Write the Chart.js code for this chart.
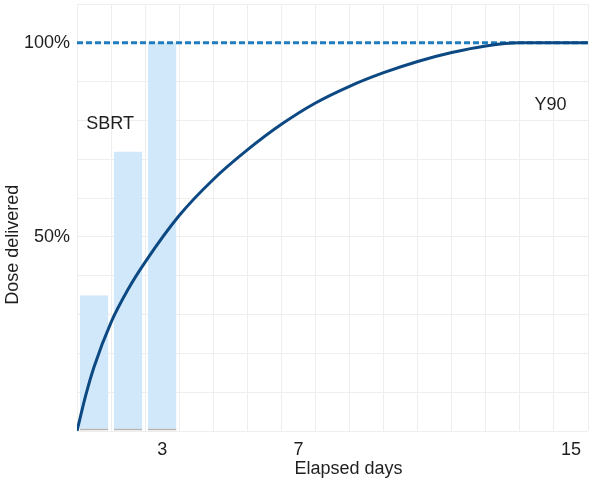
<!DOCTYPE html>
<html>
<head>
<meta charset="utf-8">
<script src="https://cdn.jsdelivr.net/npm/chart.js@4.4.1/dist/chart.umd.min.js"></script>
<style>
  html, body { margin: 0; padding: 0; background: #fff; }
  #wrap { width: 590px; height: 491px; }
</style>
</head>
<body>
<div id="wrap"><canvas id="doseChart"></canvas></div>
<script>
// SBRT fractions (bar centres in days, cumulative dose %)
const sbrtX = [0.5, 1.5, 2.5];
const sbrtDose = [35, 72, 100];

// Y90 cumulative dose curve
const y90Days = [0, 0.25, 0.5, 1, 1.5, 2, 3, 4, 5, 6, 7, 8, 9, 10, 11, 12, 13, 14, 15];
const y90Dose = [0, 9, 16.5, 28, 36.5, 43.5, 55.5, 64.8, 72.4, 79, 84.5, 88.8, 92.3, 95.2, 97.5, 99.2, 100, 100, 100];

// 100% reference line
const refDays = [0, 15];
const refDose = [100, 100];

// tick labels
const xTickDays = [3, 7, 15];
const yTickVals = [50, 100];

const FONT = 'Liberation Sans, Arial, Helvetica, sans-serif';
const TEXT = '#1f1f1f';

// axis titles + in-plot labels
const textPlugin = {
    id: 'textPlugin',
    afterDraw(chart) {
        const ctx = chart.ctx;
        const x = chart.scales.x, y = chart.scales.y;
        ctx.save();
        ctx.fillStyle = TEXT;
        ctx.font = '18px ' + FONT;
        ctx.textBaseline = 'middle';

        ctx.textAlign = 'center';
        ctx.fillText('SBRT', x.getPixelForValue(0.97), y.getPixelForValue(79));
        ctx.fillText('Y90', x.getPixelForValue(13.9), y.getPixelForValue(84));

        // x title starts under the "7" label
        ctx.textAlign = 'left';
        ctx.fillText('Elapsed days', x.getPixelForValue(6.5) - 4, chart.height - 22);

        // y title
        ctx.translate(13, y.getPixelForValue(48));
        ctx.rotate(-Math.PI / 2);
        ctx.textAlign = 'center';
        ctx.fillText('Dose delivered', 0, 0);
        ctx.restore();
    }
};

new Chart(document.getElementById('doseChart').getContext('2d'), {
    type: 'bar',
    data: {
        datasets: [{
            type: 'line',
            label: 'Y90',
            data: y90Days.map((d, i) => ({ x: d, y: y90Dose[i] })),
            borderColor: '#0c4882',
            borderWidth: 3,
            pointRadius: 0,
            fill: false,
            cubicInterpolationMode: 'monotone',
            order: 1
        }, {
            type: 'line',
            label: '100%',
            data: refDays.map((d, i) => ({ x: d, y: refDose[i] })),
            borderColor: '#1f7dbf',
            borderWidth: 3,
            borderDash: [6, 3],
            pointRadius: 0,
            fill: false,
            order: 2
        }, {
            type: 'bar',
            label: 'SBRT',
            data: sbrtX.map((d, i) => ({ x: d, y: sbrtDose[i] })),
            backgroundColor: '#d0e8f9',
            borderColor: '#b5b5b5',
            borderWidth: { top: 0, left: 0, right: 0, bottom: 2 },
            borderSkipped: false,
            barPercentage: 0.84,
            categoryPercentage: 1,
            order: 3
        }]
    },
    options: {
        responsive: true,
        maintainAspectRatio: false,
        animation: false,
        layout: { padding: { top: 4, right: 2, left: 0, bottom: 0 } },
        plugins: {
            legend: { display: false },
            tooltip: { enabled: false }
        },
        scales: {
            x: {
                type: 'linear',
                min: 0,
                max: 15,
                offset: false,
                grid: { color: '#eeeeee', drawTicks: false, offset: false },
                border: { display: false },
                ticks: {
                    stepSize: 1,
                    autoSkip: false,
                    maxRotation: 0,
                    padding: 8,
                    labelOffset: -17,
                    color: TEXT,
                    font: { family: FONT, size: 18 },
                    callback: v => xTickDays.includes(v) ? String(v) : ''
                },
                afterFit: s => {
                    s.height = 60;
                    s.paddingLeft = 0;
                    s.paddingRight = 0;
                }
            },
            y: {
                min: 0,
                max: 110,
                grid: { color: '#eeeeee', drawTicks: false },
                border: { display: false },
                ticks: {
                    stepSize: 10,
                    padding: 7,
                    color: TEXT,
                    font: { family: FONT, size: 18 },
                    callback: v => yTickVals.includes(v) ? v + '%' : ''
                },
                afterFit: s => {
                    s.width = 77;
                    s.paddingTop = 0;
                    s.paddingBottom = 0;
                }
            }
        }
    },
    plugins: [textPlugin]
});
</script>
</body>
</html>
